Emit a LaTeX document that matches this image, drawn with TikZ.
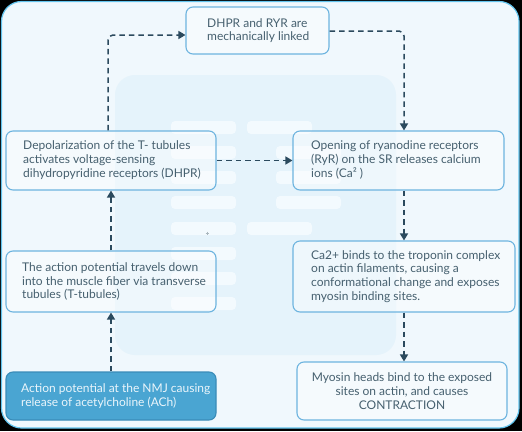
\documentclass[tikz,border=0pt]{standalone}
\usepackage{fontspec}
\setmainfont{Lato}
\usetikzlibrary{arrows.meta,calc}
\definecolor{outerbg}{HTML}{F0F8FD}
\definecolor{outerline}{HTML}{62C4EE}
\definecolor{decobg}{HTML}{E5F3FB}
\definecolor{barc}{HTML}{F3FAFE}
\definecolor{boxline}{HTML}{6DB4DF}
\definecolor{textc}{HTML}{46606F}
\definecolor{darkfill}{HTML}{4AA5D2}
\definecolor{darkline}{HTML}{3A8CB8}
\definecolor{lighttext}{HTML}{EAF5FB}
\definecolor{arrowc}{HTML}{2B4A5E}
\begin{document}
\begin{tikzpicture}[x=1pt,y=-1pt,
  stepbox/.style={draw=boxline, line width=1.1pt, rounded corners=7pt, fill=white, fill opacity=0.35, inner sep=0pt},
  startbox/.style={draw=darkline, line width=1.1pt, rounded corners=7pt, fill=darkfill, inner sep=0pt},
  txt/.style={font=\fontsize{12}{13.7}\selectfont, text=textc, align=left, inner sep=0pt, anchor=west},
  bar/.style={fill=barc, rounded corners=4pt},
  flow/.style={draw=arrowc, line width=1.5pt, dash pattern=on 5.5pt off 4pt, rounded corners=5pt,
    -{Triangle[length=7pt,width=8pt]}}
]
\useasboundingbox (0,0) rectangle (522,431);
\fill[black] (0,0) rectangle (522,431);
\draw[fill=outerbg, draw=outerline, line width=1.2pt, rounded corners=20pt] (1.5,1.5) rectangle (519,428);
% background decoration
\fill[decobg, rounded corners=20pt] (115,75) rectangle (396,355);
\foreach \y in {121,146,171,196,222,247,272,297} {\path[bar] (171,\y) rectangle (236,\y+13);}
\path[bar] (247,121) rectangle (312,134);
\path[bar] (247,222) rectangle (312,235);
\foreach \y in {146,171,196} {\path[bar] (276,\y) rectangle (341,\y+13);}
\draw[arrowc!40, line width=0.4pt] (205.5,233) -- (208.5,233) (207,231.5) -- (207,234.5);
% boxes
\node[startbox, minimum width=210pt, minimum height=48pt] (b1) at (111,396) {};
\node[stepbox, minimum width=210pt, minimum height=61pt] (b2) at (111,281.5) {};
\node[stepbox, minimum width=210pt, minimum height=59pt] (b3) at (111,160.5) {};
\node[stepbox, minimum width=143pt, minimum height=47pt] (b4) at (257.5,30.5) {};
\node[stepbox, minimum width=211pt, minimum height=59pt] (b5) at (398.5,160.5) {};
\node[stepbox, minimum width=222pt, minimum height=71pt] (b6) at (404,276.5) {};
\node[stepbox, minimum width=210pt, minimum height=58pt] (b7) at (402,391) {};
% texts
\node[txt, text=lighttext] (t1) at (21,396) {Action potential at the NMJ causing\\release of acetylcholine (ACh)};
\node[txt] (t2) at (22,281.5) {The action potential travels down\\into the muscle fiber via transverse\\tubules (T-tubules)};
\node[txt] (t3) at (23,160) {Depolarization of the T- tubules\\activates voltage-sensing\\dihydropyridine receptors (DHPR)};
\node[txt] (t4) at (207,30.5) {DHPR and RYR are\\mechanically linked};
\node[txt] (t5) at (311,160) {Opening of ryanodine receptors\\(RyR) on the SR releases calcium\\ions (Ca² )};
\node[txt] (t6) at (311,276.5) {Ca2+ binds to the troponin complex\\on actin filaments, causing a\\conformational change and exposes\\myosin binding sites.};
\node[txt, anchor=center, align=center] (t7) at (402,391) {Myosin heads bind to the exposed\\sites on actin, and causes\\CONTRACTION};
% connectors
\draw[flow] (b1.north) -- (b2.south);
\draw[flow] (b2.north) -- (b3.south);
\draw[flow] (108,0 |- b3.north) |- (b4.west |- 0,35);
\draw[flow] (b4.east |- 0,31) -| (404,0 |- b5.north);
\draw[flow] (b3.east) -- (b5.west);
\draw[flow] (404,0 |- b5.south) -- (404,0 |- b6.north);
\draw[flow] (404,0 |- b6.south) -- (404,0 |- b7.north);
\end{tikzpicture}
\end{document}
